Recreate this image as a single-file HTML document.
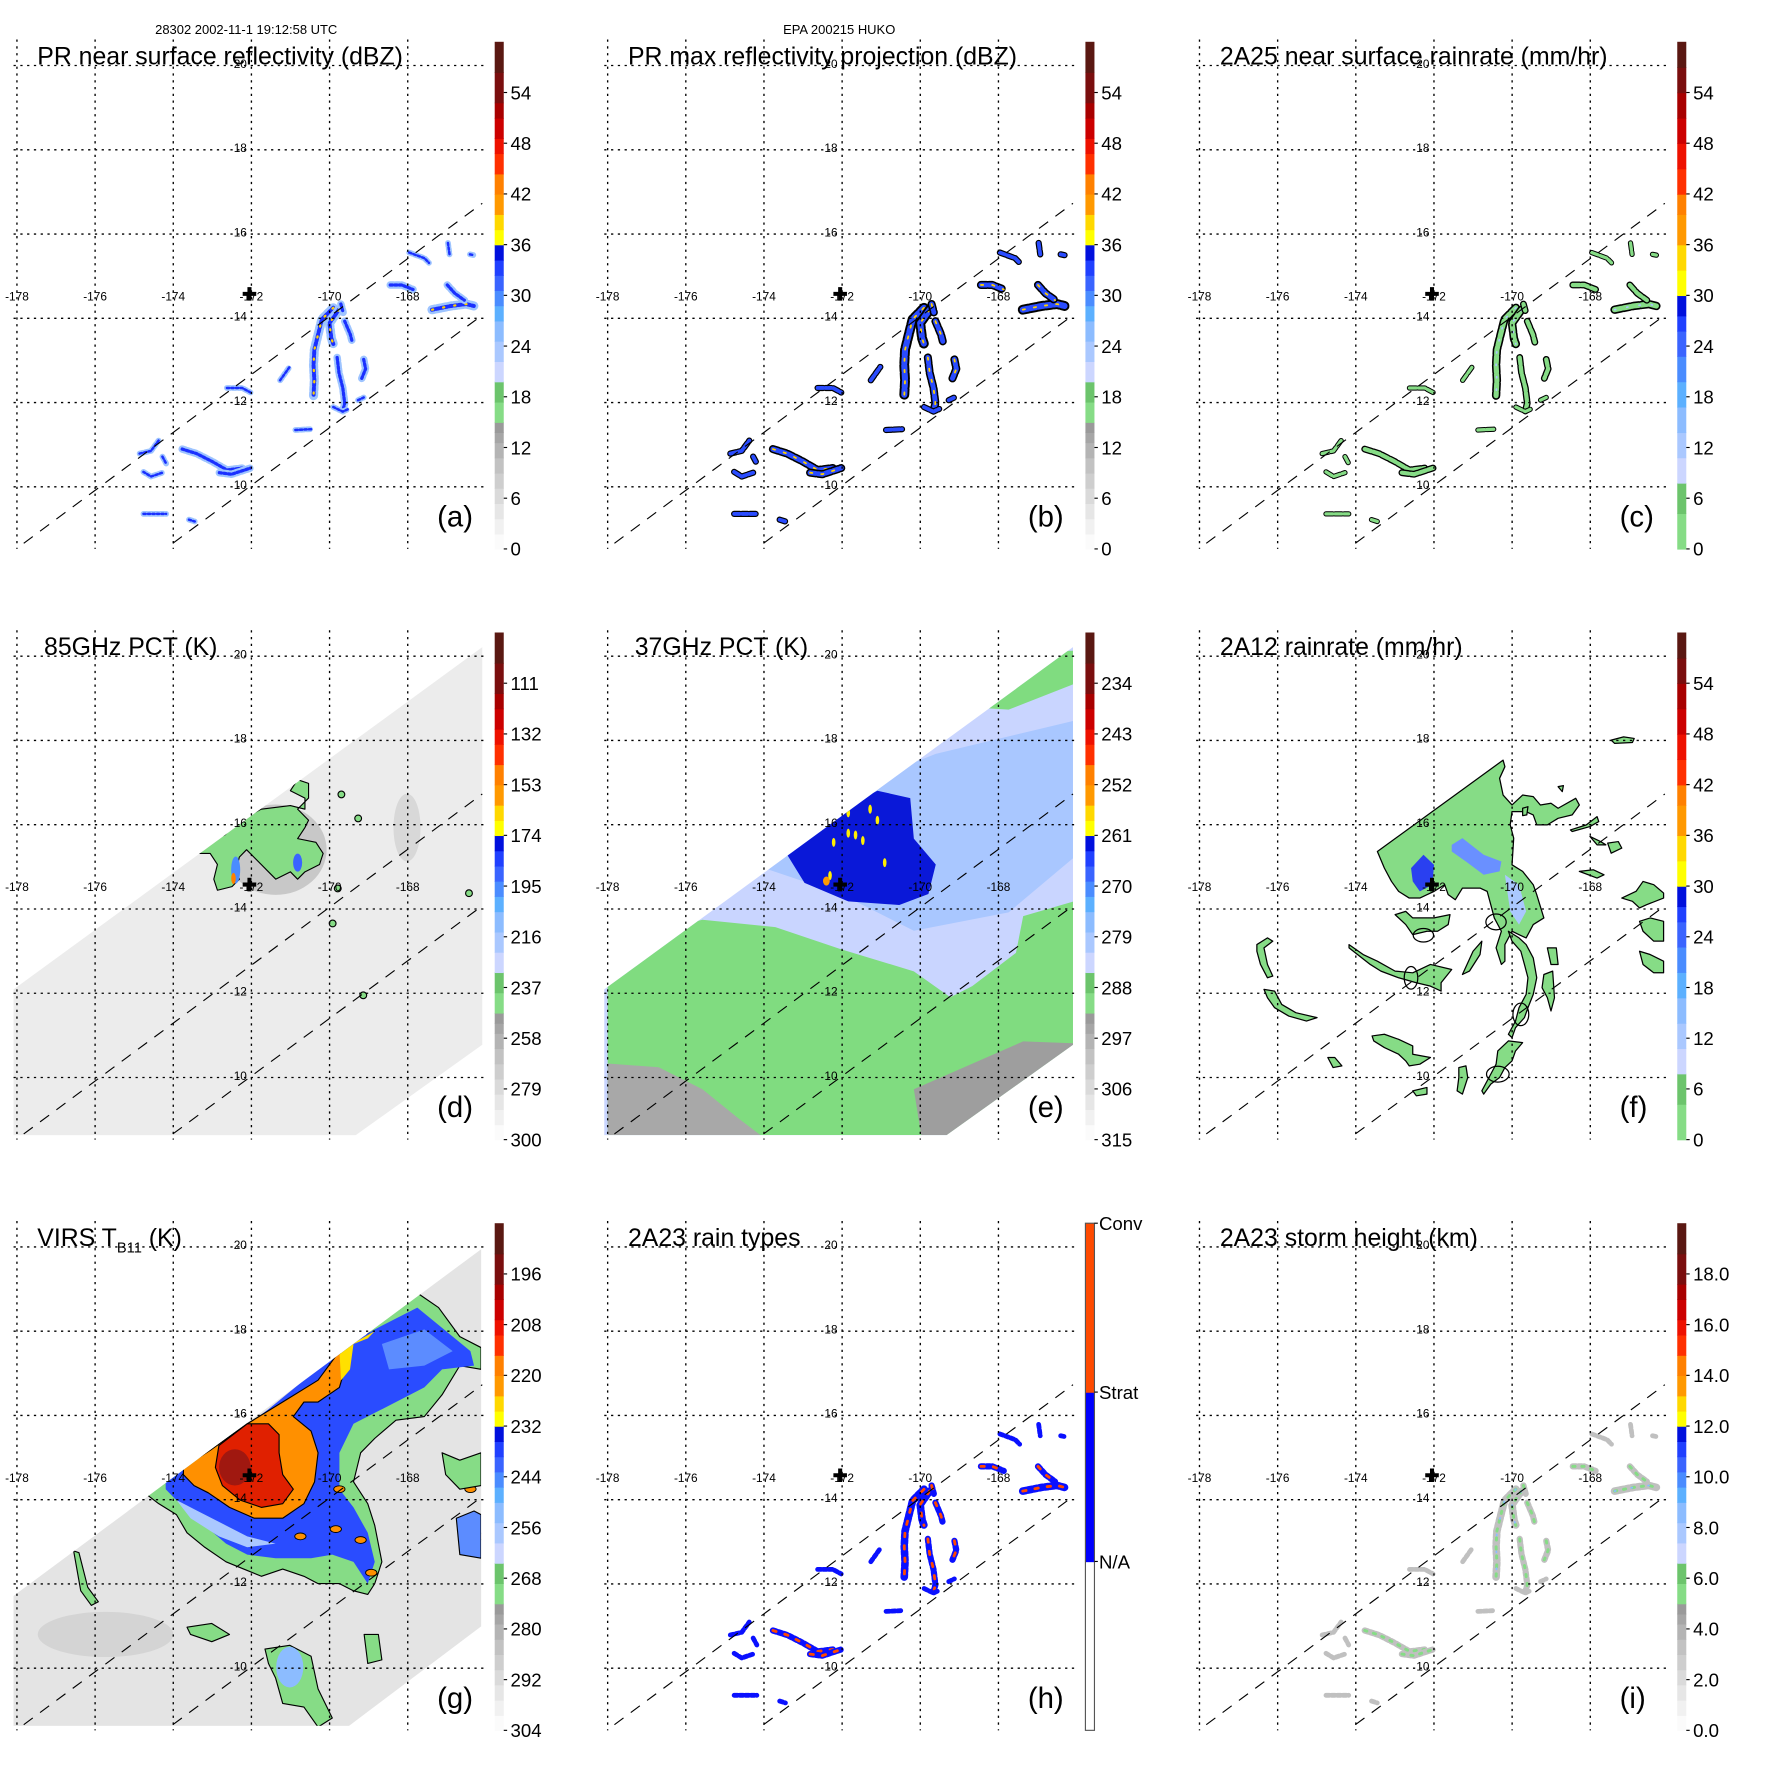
<!DOCTYPE html>
<html><head><meta charset="utf-8"><style>
html,body{margin:0;padding:0;background:#fff}
svg{display:block}
text{font-family:"Liberation Sans",sans-serif;fill:#000}
</style></head><body>
<svg id="fig" xmlns="http://www.w3.org/2000/svg" width="1771" height="1771" viewBox="0 0 1568 1568">
<rect x="0" y="0" width="1568" height="1568" fill="#fff"/>
<text x="218" y="30" font-size="11.5" text-anchor="middle">28302 2002-11-1 19:12:58 UTC</text>
<text x="743" y="30" font-size="11.5" text-anchor="middle">EPA 200215 HUKO</text>
</svg>
<script>
const NS='http://www.w3.org/2000/svg';
const svg=document.getElementById('fig');
// ---- data arrays ----
const lonTicks=[-178,-176,-174,-172,-170,-168];
const latTicks=[20,18,16,14,12,10];
const panelIds=['a','b','c','d','e','f','g','h','i'];
const panelTitles=['PR near surface reflectivity (dBZ)','PR max reflectivity projection (dBZ)','2A25 near surface rainrate (mm/hr)','85GHz PCT (K)','37GHz PCT (K)','2A12 rainrate (mm/hr)','VIRS','2A23 rain types','2A23 storm height (km)'];
const cbLabelsA=['54','48','42','36','30','24','18','12','6','0'];
const cbLabelsC=['54','48','42','36','30','24','18','12','6','0'];
const cbLabelsD=['111','132','153','174','195','216','237','258','279','300'];
const cbLabelsE=['234','243','252','261','270','279','288','297','306','315'];
const cbLabelsG=['196','208','220','232','244','256','268','280','292','304'];
const cbLabelsI=['18.0','16.0','14.0','12.0','10.0','8.0','6.0','4.0','2.0','0.0'];
const cbLabelsH=['Conv','Strat','N/A'];
const cbFracH=[1.0,0.667,0.333];
const stormCenter=[-172.05,14.58];
// PR rain streaks (zoom-grid units), intensity 1..3
const prStreaks=[
 [[880,810],[850,840],[840,880],[830,920],[828,960],[830,1000],[828,1040]],
 [[895,815],[870,850],[875,890],[880,905]],
 [[890,940],[895,980],[905,1020],[910,1060],[905,1080]],
 [[910,845],[925,880],[930,900]],
 [[960,945],[965,970],[955,995]],
 [[880,1070],[905,1082],[920,1075]],
 [[945,1052],[960,1045]],
 [[740,1000],[765,965]],
 [[1030,750],[1060,750],[1090,762]],
 [[1140,815],[1190,805],[1230,800],[1250,805]],
 [[1180,750],[1200,772],[1225,790]],
 [[1080,665],[1120,680],[1132,692]],
 [[1182,640],[1186,670]],
 [[600,1020],[640,1020],[662,1032]],
 [[482,1180],[520,1192],[560,1212],[600,1235],[640,1230]],
 [[370,1192],[400,1185],[420,1158]],
 [[380,1240],[400,1252],[430,1242]],
 [[430,1200],[440,1218]],
 [[380,1350],[440,1350]],
 [[500,1365],[515,1370]],
 [[580,1242],[612,1246],[662,1230]],
 [[780,1130],[822,1128]],
 [[900,800],[906,822]],
 [[1240,670],[1250,672]]
];
const prIntensity=[3,3,2,2,2,1,1,1,2,3,2,1,1,1,2,1,1,1,1,1,2,1,2,1];

// ---- helpers ----
function mk(tag,attrs,parent){const e=document.createElementNS(NS,tag);for(const k in attrs)e.setAttribute(k,attrs[k]);(parent||svg).appendChild(e);return e;}
function origin(i){return [[0,523,1047][i%3],[0,523,1046][Math.floor(i/3)]];}
function xLon(i,lon){return origin(i)[0]+15+(lon+178)*34.6;}
function yLat(i,lat){return origin(i)[1]+58+(20-lat)*37.3;}
function z1(p){return [-178+(p[0]-47)/102.9,20-(p[1]-175)/110.4];}
function z3(p){return [-178+(p[0]-25)/53.6,20-(p[1]-155)/114.3];}
function z3e(p){return [-178+(p[0]-830)/53.6,20-(p[1]-155)/114.3];}
function z4(p){return [-178+(p[0]-50)/110.3,20-(p[1]-133)/116];}
function z5(p){return [-178+(p[0]-138)/110.3,18-(p[1]-186)/126.75];}
function pts(i,f,arr){return arr.map(p=>{const q=f(p);return xLon(i,q[0]).toFixed(1)+','+yLat(i,q[1]).toFixed(1);}).join(' ');}
function poly(i,f,arr,fill,stroke,sw,name,g){
 const e=mk('polygon',{points:pts(i,f,arr),fill:fill,stroke:stroke||'none','stroke-width':sw||0,'stroke-linejoin':'round'},g);
 
 
 return e;}
function ell(i,f,c,rx,ry,fill,stroke,sw,name,g){
 const q=f(c);
 const e=mk('ellipse',{cx:xLon(i,q[0]),cy:yLat(i,q[1]),rx:rx,ry:ry,fill:fill,stroke:stroke||'none','stroke-width':sw||0},g);
 
 
 return e;}

const stdScale=[[0,'#fbfbfb'],[.03,'#f1f1f1'],[.06,'#e6e6e6'],[.09,'#dadada'],[.12,'#cecece'],[.15,'#c2c2c2'],[.18,'#b4b4b4'],[.21,'#a6a6a6'],[.23,'#9a9a9a'],[.25,'#86dc86'],[.29,'#6cc46c'],[.33,'#ccd6ff'],[.37,'#aac8ff'],[.41,'#8cbcff'],[.45,'#5cb0ff'],[.48,'#4a8cff'],[.51,'#3a64ff'],[.54,'#2040ff'],[.57,'#0010dd'],[.60,'#ffff00'],[.63,'#ffd800'],[.66,'#ff9900'],[.70,'#ff8000'],[.74,'#ff3000'],[.78,'#ee1100'],[.81,'#cc0000'],[.85,'#a80000'],[.88,'#7a0e0e'],[.94,'#5a1812'],[1,'']];
const rainScale=[[0,'#86dc86'],[.07,'#6cc46c'],[.13,'#ccd6ff'],[.18,'#aac8ff'],[.23,'#8cbcff'],[.28,'#5cb0ff'],[.33,'#4a8cff'],[.38,'#3a64ff'],[.43,'#2040ff'],[.46,'#0010dd'],[.50,'#ffff00'],[.55,'#ffd800'],[.60,'#ff9900'],[.66,'#ff8000'],[.70,'#ff3000'],[.75,'#ee1100'],[.80,'#cc0000'],[.85,'#a80000'],[.90,'#7a0e0e'],[.95,'#5a1812'],[1,'']];
const hScale=[[0,'#ffffff'],[.333,'#0000ff'],[.667,'#ff4a00'],[1,'']];

function colorbar(i,scale,labels,fracs){
 const [ox,oy]=origin(i);const x=ox+438,top=oy+37,bot=oy+486,h=bot-top;
 const g=mk('g',{});
 
 
 for(let k=0;k<scale.length-1;k++){
  const y0=bot-scale[k+1][0]*h,y1=bot-scale[k][0]*h;
  const r=mk('rect',{x:x,y:y0.toFixed(1),width:8,height:(y1-y0+0.6).toFixed(1),fill:scale[k][1]},g);
  
  
 }
 if(scale===hScale){const r=mk('rect',{x:x,y:top,width:8,height:h,fill:'none',stroke:'#555','stroke-width':1},g);}
 labels.forEach((t,k)=>{
  const fr=fracs?fracs[k]:0.9-k*0.1;const y=bot-fr*h;
  const tk=mk('line',{x1:x+8,x2:x+11,y1:y,y2:y,stroke:'#000','stroke-width':1},g);
  
  
  const tx=mk('text',{x:ox+(fracs?450:452),y:(y+6).toFixed(1),'font-size':16.5},g);tx.textContent=t;
  
  
 });
}

function grid(i){
 const [ox,oy]=origin(i);
 const g=mk('g',{});
 
 
 lonTicks.forEach(l=>{const x=xLon(i,l);const e=mk('line',{x1:x,x2:x,y1:oy+35,y2:oy+486,stroke:'#000','stroke-width':1.2,'stroke-dasharray':'2,4'},g);
  
  
  const t=mk('text',{x:x,y:oy+266,'font-size':10.5,'text-anchor':'middle'},g);t.textContent=String(l);
  
  });
 latTicks.forEach(l=>{const y=yLat(i,l);const e=mk('line',{x1:ox+12,x2:ox+431,y1:y,y2:y,stroke:'#000','stroke-width':1.2,'stroke-dasharray':'2,4'},g);
  
  
  const t=mk('text',{x:xLon(i,-172)-4,y:y+2,'font-size':10.5,'text-anchor':'end'},g);t.textContent=String(l);
  
  });
 [[21,481,427,180],[153,481,427,279]].forEach(d=>{const e=mk('line',{x1:ox+d[0],y1:oy+d[1],x2:ox+d[2],y2:oy+d[3],stroke:'#000','stroke-width':1,'stroke-dasharray':'10,8'},g);
  
  });
 const cx=xLon(i,stormCenter[0]),cy=yLat(i,stormCenter[1]);
 const p=mk('path',{d:`M${cx-6},${cy}H${cx+6}M${cx},${cy-6}V${cy+6}`,stroke:'#000','stroke-width':3.6},g);
 
 
}

function titles(i){
 const [ox,oy]=origin(i);
 const tx=ox+(i===3||i===4?39:33);
 const t=mk('text',{x:tx,y:oy+57,'font-size':22});
 
 
 if(i===6){t.innerHTML='VIRS T<tspan font-size="13" dy="6">B11</tspan><tspan dy="-6"> (K)</tspan>';}
 else t.textContent=panelTitles[i];
 const l=mk('text',{x:ox+387,y:oy+466,'font-size':26});l.textContent='('+panelIds[i]+')';
 
 
}

function swath(i,arr,fill){
 const [ox,oy]=origin(i);
 const cp=mk('clipPath',{id:'clip'+i});
 mk('polygon',{points:arr.map(p=>(ox+p[0])+','+(oy+p[1])).join(' ')},cp);
 const base=mk('polygon',{points:arr.map(p=>(ox+p[0])+','+(oy+p[1])).join(' '),fill:fill});
 
 
 const g=mk('g',{'clip-path':'url(#clip'+i+')'});
 
 
 return g;
}

// PR rain drawing
function prPanel(i,style){
 const g=mk('g',{});
 
 
 prStreaks.forEach((s,k)=>{
  const v=prIntensity[k];
  const d='M'+s.map(p=>{const q=z1(p);return xLon(i,q[0]).toFixed(1)+','+yLat(i,q[1]).toFixed(1);}).join('L');
  style.forEach(st=>{
   if(st.min&&v<st.min)return;
   const e=mk('path',{d:d,fill:'none',stroke:st.c,'stroke-width':st.w*(st.scale?(0.6+0.25*v):1),'stroke-linecap':'round','stroke-linejoin':'round','stroke-dasharray':st.da||'none'},g);
   
   
  });
 });
}

// ---- build panels ----
for(let i=0;i<9;i++){
 if(i===3){
  const g=swath(i,[[12,353],[427,50],[427,402],[315,482],[12,482]],'#ececec');
  ell(i,z3,[380,680],45,40,'#c8c8c8','none',0,'cold-cloud-shading',g);
  ell(i,z3,[560,620],12,30,'#d8d8d8','none',0,'cloud-streak',g);
  poly(i,z3,[[330,600],[360,570],[400,560],[420,570],[420,540],[400,520],[410,490],[425,500],[425,540],[410,570],[425,600],[420,620],[410,650],[435,660],[445,690],[440,720],[420,740],[410,760],[400,740],[380,760],[370,740],[360,720],[350,700],[340,680],[330,700],[325,740],[330,760],[320,780],[300,790],[295,760],[300,720],[290,690],[275,690],[285,660],[310,640],[320,620]],'#86dc86','#000',1,'pct85-low-region',g);
  ell(i,z3,[325,735],4,12,'#4a8cff','none',0,'pct85-blue-core',g);
  ell(i,z3,[410,715],4,8,'#3a64ff','none',0,'pct85-blue-core',g);
  ell(i,z3,[322,758],2,5,'#ff8000','none',0,'pct85-orange-core',g);
  [[470,530],[493,595],[645,798],[465,785],[500,1075],[458,880]].forEach(c=>ell(i,z3,c,3,3,'#86dc86','#000',1,'pct85-small-cell',g));
 }
 if(i===4){
  const g=swath(i,[[12,353],[427,50],[427,402],[315,482],[12,482]],'#c9d5ff');
  poly(i,z3e,[[1000,700],[1100,560],[1280,420],[1470,330],[1470,700],[1380,850],[1250,900],[1150,800]],'#a9c7ff','none',0,'pct37-lightblue',g);
  poly(i,z3e,[[1075,690],[1150,570],[1200,520],[1245,540],[1250,650],[1280,720],[1270,800],[1230,830],[1160,820],[1100,770]],'#0a18d8','none',0,'pct37-darkblue',g);
  poly(i,z3e,[[830,1000],[900,900],[960,870],[1060,890],[1150,950],[1250,1010],[1300,1080],[1330,1050],[1390,960],[1400,860],[1470,820],[1470,1215],[1300,1455],[830,1455]],'#80dc80','none',0,'pct37-green',g);
  poly(i,z3e,[[1300,150],[1470,140],[1470,230],[1380,300],[1300,290]],'#80dc80','none',0,'pct37-green-corner',g);
  poly(i,z3e,[[830,1260],[900,1270],[960,1330],[1010,1410],[1040,1455],[830,1455]],'#a8a8a8','none',0,'pct37-grey',g);
  poly(i,z3e,[[1250,1330],[1400,1200],[1470,1205],[1470,1215],[1300,1455],[1260,1455]],'#9e9e9e','none',0,'pct37-grey-right',g);
  [[1160,580],[1190,570],[1140,660],[1170,640],[1180,655],[1200,600],[1210,715],[1135,750],[1160,635]].forEach(c=>ell(i,z3e,c,1.6,4,'#ffee00','none',0,'pct37-yellow-pixel',g));
  ell(i,z3e,[1130,765],3,4,'#ff9900','none',0,'pct37-orange-pixel',g);
 }
 if(i===6){
  const g=swath(i,[[12,367],[426,60],[426,394],[309,482],[12,482]],'#e4e4e4');
  ell(i,z4,[300,1200],60,20,'#d4d4d4','none',0,'ir-grey-streak',g);
  poly(i,z4,[[410,810],[470,780],[520,740],[600,690],[700,620],[800,560],[1000,420],[1050,360],[1130,300],[1180,260],[1240,300],[1300,380],[1360,410],[1360,470],[1300,460],[1250,540],[1200,600],[1120,610],[1060,660],[1020,700],[1000,780],[1040,840],[1060,900],[1080,1000],[1060,1060],[1040,1090],[1000,1080],[960,1060],[900,1060],[860,1040],[800,1020],[740,1040],[690,1020],[640,1000],[580,960],[530,920],[500,870],[450,840]],'#86dc86','#000',1,'ir-green-region',g);
  poly(i,z4,[[470,780],[560,720],[650,660],[760,580],[960,420],[1060,360],[1180,300],[1230,340],[1330,420],[1340,460],[1250,470],[1200,520],[1120,560],[1000,620],[960,700],[960,800],[1000,850],[1040,920],[1060,1000],[1040,1060],[1000,1000],[940,980],[880,990],[780,990],[700,980],[640,950],[580,900],[520,850],[470,800]],'#2a4cff','none',0,'ir-blue-region',g);
  poly(i,z4,[[500,830],[560,860],[640,900],[700,930],[780,950],[700,960],[620,930],[540,880]],'#aac8ff','none',0,'ir-lightblue-band',g);
  poly(i,z4,[[1080,400],[1200,360],[1280,420],[1200,460],[1100,470]],'#5c8cff','none',0,'ir-blue-patch',g);
  poly(i,z4,[[520,740],[600,690],[700,620],[800,560],[900,500],[960,420],[975,470],[960,520],[900,560],[860,560],[830,600],[880,640],[900,700],[890,780],[860,840],[800,880],[720,880],[650,850],[590,810],[550,790],[520,760]],'#ff9000','#000',1,'ir-orange-region',g);
  poly(i,z4,[[960,420],[1060,365],[1040,385],[1000,400],[990,470],[965,500]],'#ffe000','none',0,'ir-yellow-strip',g);
  poly(i,z4,[[620,680],[700,620],[760,620],[790,650],[790,700],[800,760],[830,800],[800,840],[740,850],[680,830],[630,790],[610,740]],'#e02000','#000',1,'ir-red-region',g);
  ell(i,z4,[665,740],14,16,'#a01810','none',0,'ir-coldest-core',g);
  [[850,930],[960,800],[1020,940],[1050,1030],[1330,800],[1355,930],[950,910]].forEach(c=>ell(i,z4,c,5,3,'#ff9000','#000',0.8,'ir-orange-cell',g));
  poly(i,z4,[[750,1240],[820,1230],[880,1260],[900,1350],[940,1430],[900,1455],[860,1400],[800,1390],[780,1320],[760,1280]],'#86dc86','#000',1,'ir-green-patch',g);
  ell(i,z4,[820,1290],12,18,'#8cbcff','none',0,'ir-lightblue-patch',g);
  poly(i,z4,[[1250,700],[1300,720],[1360,700],[1360,790],[1300,800],[1260,760]],'#86dc86','#000',1,'ir-green-patch',g);
  poly(i,z4,[[1290,880],[1340,860],[1360,870],[1360,990],[1300,980]],'#5c8cff','#000',1,'ir-blue-patch',g);
  poly(i,z4,[[1030,1200],[1070,1200],[1080,1270],[1040,1280]],'#86dc86','#000',1,'ir-green-patch',g);
  poly(i,z4,[[530,1180],[600,1170],[650,1200],[600,1220],[540,1200]],'#86dc86','#000',1,'ir-green-patch',g);
  poly(i,z4,[[210,970],[225,975],[250,1070],[280,1110],[260,1120],[230,1080]],'#86dc86','#000',1,'ir-green-patch',g);
 }
 if(i===5){
  const g=mk('g',{});
  
  
  const G='#86dc86';
  const shapes=[
   [[640,520],[995,245],[1000,265],[985,300],[995,350],[1020,380],[1050,350],[1080,355],[1100,380],[1130,375],[1150,390],[1200,360],[1210,380],[1190,410],[1150,420],[1120,440],[1090,440],[1080,410],[1060,400],[1020,400],[1015,440],[1025,480],[1020,560],[1050,580],[1080,620],[1090,650],[1110,720],[1080,740],[1060,780],[1040,770],[1020,760],[1000,800],[1000,850],[990,860],[975,810],[990,760],[970,720],[960,680],[950,640],[930,630],[880,630],[860,665],[840,650],[830,620],[800,640],[780,650],[760,660],[730,660],[700,640],[680,610],[660,570]],
   [[690,710],[720,700],[740,720],[800,720],[845,710],[840,740],[810,760],[780,760],[740,770],[720,740]],
   [[560,800],[600,830],[640,850],[690,880],[740,885],[790,860],[850,875],[820,915],[820,940],[790,925],[750,915],[700,900],[650,880],[620,860],[560,810]],
   [[880,890],[910,820],[935,790],[930,830],[900,880]],
   [[300,800],[330,780],[345,790],[320,810],[330,860],[345,895],[330,900],[310,860],[300,820]],
   [[320,935],[350,940],[370,980],[410,1005],[470,1020],[440,1030],[390,1015],[350,990],[330,960]],
   [[625,1075],[660,1070],[700,1085],[740,1105],[740,1130],[790,1140],[760,1160],[730,1165],[720,1150],[700,1130],[660,1110],[630,1090]],
   [[1010,760],[1040,780],[1060,800],[1080,840],[1090,900],[1080,950],[1065,990],[1055,1020],[1030,1050],[1020,1080],[1010,1070],[1030,1030],[1040,990],[1060,950],[1065,900],[1055,860],[1045,820],[1020,790]],
   [[1120,810],[1145,810],[1150,860],[1130,860]],
   [[1110,890],[1135,880],[1140,960],[1130,1000],[1120,960],[1105,930]],
   [[980,1120],[1010,1090],[1050,1095],[1030,1120],[1020,1150],[1000,1170],[985,1200],[960,1220],[940,1250],[935,1240],[955,1200],[975,1160]],
   [[870,1170],[890,1165],[895,1200],[880,1250],[865,1240],[870,1200]],
   [[1210,580],[1250,575],[1280,590],[1260,600]],
   [[1330,660],[1370,640],[1390,610],[1420,620],[1448,645],[1448,660],[1400,680],[1380,690],[1360,670]],
   [[1380,730],[1410,720],[1448,730],[1448,790],[1420,790],[1390,760]],
   [[1380,820],[1410,830],[1448,850],[1448,885],[1420,885],[1390,860]],
   [[1290,495],[1320,490],[1330,510],[1300,525]],
   [[1240,475],[1270,490],[1285,500],[1260,500]],
   [[1185,455],[1230,440],[1260,415],[1265,430],[1240,445],[1190,460]],
   [[1300,185],[1335,175],[1365,180],[1360,192],[1310,195]],
   [[500,1140],[520,1140],[540,1165],[515,1170]],
   [[740,1240],[780,1230],[780,1250],[750,1255]],
   [[1050,390],[1065,385],[1062,410],[1050,412]],
   [[1150,325],[1165,322],[1162,340]]
  ];
  shapes.forEach(s=>poly(i,z5,s,G,'#000',1.1,'rain-patch',g));
  poly(i,z5,[[735,570],[770,530],[800,560],[795,620],[760,640],[740,610]],'#2a40f0','none',0,'heavy-rain-core',g);
  poly(i,z5,[[850,500],[880,480],[940,530],[990,550],[985,580],[940,590],[890,550],[850,520]],'#6a90ff','none',0,'rain-blue-streak',g);
  poly(i,z5,[[1000,590],[1040,620],[1060,700],[1040,740],[1015,700]],'#aac8ff','none',0,'rain-lightblue-streak',g);
  [[770,772,9,6],[735,900,6,10],[975,732,9,7],[1045,1010,7,10],[980,1190,10,7]].forEach(c=>ell(i,z5,[c[0],c[1]],c[2],c[3],'none','#000',1.1,'rain-contour-ring',g));
 }
}
prPanel(0,[{c:'#9ec4ff',w:6,da:'3,2',scale:1},{c:'#1a30ff',w:2.6,da:'2,2',scale:1},{c:'#ffd000',w:2,da:'1,9',min:3}]);
prPanel(1,[{c:'#000',w:6.5,da:'5,2',scale:1},{c:'#2a4cff',w:4,da:'5,2',scale:1},{c:'#ffd000',w:1.6,da:'2,8',min:2}]);
prPanel(2,[{c:'#000',w:5.5,da:'6,2',scale:1},{c:'#86dc86',w:3.4,da:'6,2',scale:1},{c:'#aac8ff',w:1.5,da:'1,10',min:3}]);
prPanel(7,[{c:'#0a10ff',w:5,da:'3,2',scale:1},{c:'#ff4a00',w:2.5,da:'3,8',min:2}]);
prPanel(8,[{c:'#c0c0c0',w:5,da:'3,2',scale:1},{c:'#86dc86',w:2.6,da:'2,6',min:2},{c:'#8cbcff',w:1.5,da:'1,14',min:3}]);

for(let i=0;i<9;i++){grid(i);titles(i);}
colorbar(0,stdScale,cbLabelsA);
colorbar(1,stdScale,cbLabelsA);
colorbar(2,rainScale,cbLabelsC);
colorbar(3,stdScale,cbLabelsD);
colorbar(4,stdScale,cbLabelsE);
colorbar(5,rainScale,cbLabelsC);
colorbar(6,stdScale,cbLabelsG);
colorbar(7,hScale,cbLabelsH,cbFracH);
colorbar(8,stdScale,cbLabelsI);
</script>
</body></html>
